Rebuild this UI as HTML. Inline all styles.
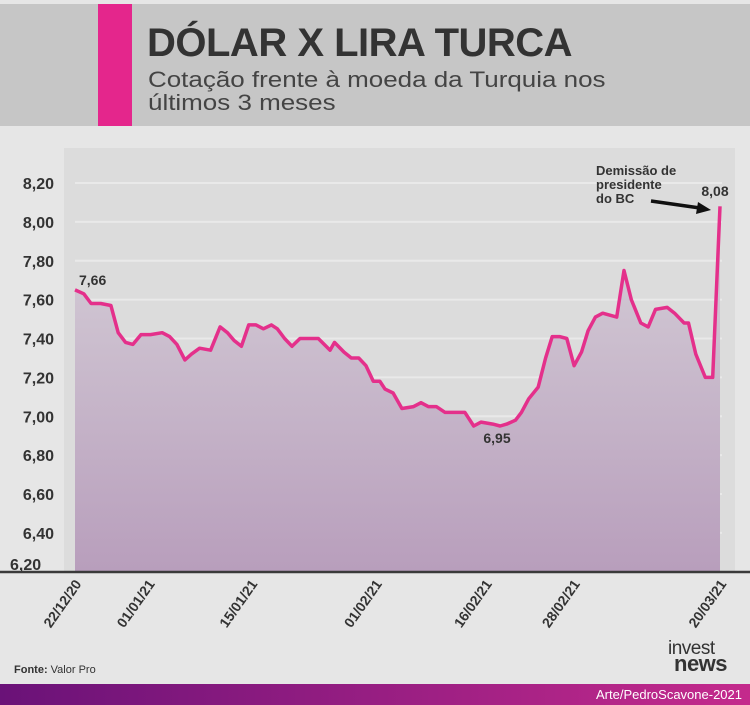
<!DOCTYPE html>
<html><head><meta charset="utf-8"><style>
body{margin:0;width:750px;height:705px;background:#e6e6e6;font-family:"Liberation Sans",sans-serif;overflow:hidden;position:relative}
</style></head><body>
<div style="position:absolute;left:0;top:4px;width:750px;height:122px;background:#c6c6c6"></div>
<div style="position:absolute;left:98px;top:4px;width:34px;height:122px;background:#e4268c"></div>
<div style="position:absolute;left:147px;top:21px;font-size:40px;font-weight:bold;color:#333;letter-spacing:-0.5px;white-space:nowrap">DÓLAR X LIRA TURCA</div>
<div style="position:absolute;left:148px;top:68px;font-size:22px;line-height:23px;color:#444;white-space:nowrap;transform:scaleX(1.18);transform-origin:left">Cotação frente à moeda da Turquia nos<br>últimos 3 meses</div>
<svg id="c" width="750" height="705" style="position:absolute;left:0;top:0">
<defs><linearGradient id="ag" x1="0" y1="0" x2="0" y2="1"><stop offset="0" stop-color="#d6d0d8"/><stop offset="1" stop-color="#b89ebc"/></linearGradient></defs>
</svg>
<div style="position:absolute;left:14px;top:664px;font-size:11px;color:#333"><b>Fonte:</b> Valor Pro</div>
<div style="position:absolute;left:668px;top:641px;font-size:19px;line-height:15px;color:#333;letter-spacing:-0.5px">invest<br><b style="font-size:22px;margin-left:6px">news</b></div>
<div style="position:absolute;left:0;top:684px;width:750px;height:21px;background:linear-gradient(90deg,#6a1278,#c42a8c)"></div>
<div style="position:absolute;right:8px;top:687px;font-size:13px;color:#fff">Arte/PedroScavone-2021</div>
<script>
const days=[0,1.2,2.2,3.5,4.9,5.9,6.9,7.9,9.0,10.3,11.9,12.9,13.9,15.0,15.9,17.0,18.5,19.8,20.8,21.7,22.7,23.7,24.7,25.7,26.8,27.6,28.6,29.6,30.7,33.2,34.8,35.4,36.7,37.7,38.7,39.7,40.7,41.6,42.3,43.4,44.6,46.2,47.2,48.2,49.3,50.5,53.2,54.4,55.4,57.0,58.0,58.9,60.1,60.9,61.9,63.2,64.2,65.1,66.1,67.1,68.1,69.1,70.0,71.0,72.0,73.9,74.9,75.9,77.2,78.2,79.2,80.8,81.8,83.1,83.7,84.7,86.0,87.0,88.0];
const rates=[7.65,7.63,7.58,7.58,7.57,7.43,7.38,7.37,7.42,7.42,7.43,7.41,7.37,7.29,7.32,7.35,7.34,7.46,7.43,7.39,7.36,7.47,7.47,7.45,7.47,7.45,7.40,7.36,7.40,7.40,7.34,7.38,7.33,7.30,7.30,7.26,7.18,7.18,7.14,7.12,7.04,7.05,7.07,7.05,7.05,7.02,7.02,6.95,6.97,6.96,6.95,6.96,6.98,7.02,7.09,7.15,7.30,7.41,7.41,7.40,7.26,7.33,7.44,7.51,7.53,7.51,7.75,7.60,7.48,7.46,7.55,7.56,7.53,7.48,7.48,7.32,7.20,7.20,8.08];
const yTicks=[8.2,8.0,7.8,7.6,7.4,7.2,7.0,6.8,6.6,6.4];
const xTickDays=[0,10,24,41,56,68,88];
const xTickLabels=["22/12/20","01/01/21","15/01/21","01/02/21","16/02/21","28/02/21","20/03/21"];
const X=d=>75+d*(645/88);
const Y=v=>183+(8.2-v)*194.4;
const svg=document.getElementById('c');const NS='http://www.w3.org/2000/svg';
function mk(t,a,p){const e=document.createElementNS(NS,t);for(const k in a)e.setAttribute(k,a[k]);(p||svg).appendChild(e);return e;}
const bg=mk('rect',{x:64,y:148,width:671,height:424,fill:'#dcdcdc'});


yTicks.forEach(v=>{
 const g=mk('line',{x1:75,x2:722,y1:Y(v),y2:Y(v),stroke:'#e9e9e9','stroke-width':2});
 
 
 const t=mk('text',{x:54,y:Y(v)+6,'text-anchor':'end','font-size':16,'font-weight':'bold',fill:'#333','font-family':'Liberation Sans'});
 t.textContent=v.toFixed(2).replace('.',',');
 
 
});
const t0=mk('text',{x:10,y:570,'font-size':16,'font-weight':'bold',fill:'#333','font-family':'Liberation Sans'});t0.textContent='6,20';


let pts=days.map((d,i)=>X(d).toFixed(1)+','+Y(rates[i]).toFixed(1));
const area=mk('path',{d:'M'+X(days[0])+',572L'+pts.join('L')+'L'+X(days[days.length-1])+',572Z',fill:'url(#ag)'});


const line=mk('polyline',{points:pts.join(' '),fill:'none',stroke:'#e4308b','stroke-width':3.5,'stroke-linejoin':'round'});


const ax=mk('line',{x1:0,x2:750,y1:572,y2:572,stroke:'#3a3a3a','stroke-width':2.5});


xTickDays.forEach((d,i)=>{
 const t=mk('text',{transform:`translate(${X(d)+7},584) rotate(-55)`,'text-anchor':'end','font-size':14,'font-weight':'bold',fill:'#333','font-family':'Liberation Sans'});
 t.textContent=xTickLabels[i];
 
 
});
function lab(txt,x,y,name,a){const t=mk('text',{x:x,y:y,'font-size':14,'font-weight':'bold',fill:'#333','font-family':'Liberation Sans','text-anchor':a||'start'});t.textContent=txt;
 
 return t;}
lab('7,66',79,285,'label-start');
lab('6,95',497,443,'label-min','middle');
lab('8,08',715,196,'label-max','middle');
['Demissão de','presidente','do BC'].forEach((s,i)=>{const t=lab(s,596,175+i*14,'annotation-text');t.setAttribute('font-size',13);});
const ar=mk('line',{x1:651,y1:201,x2:700,y2:208,stroke:'#111','stroke-width':3.5});


const ah=mk('path',{d:'M698,202 L711,210 L696,214 Z',fill:'#111'});


</script>
</body></html>
